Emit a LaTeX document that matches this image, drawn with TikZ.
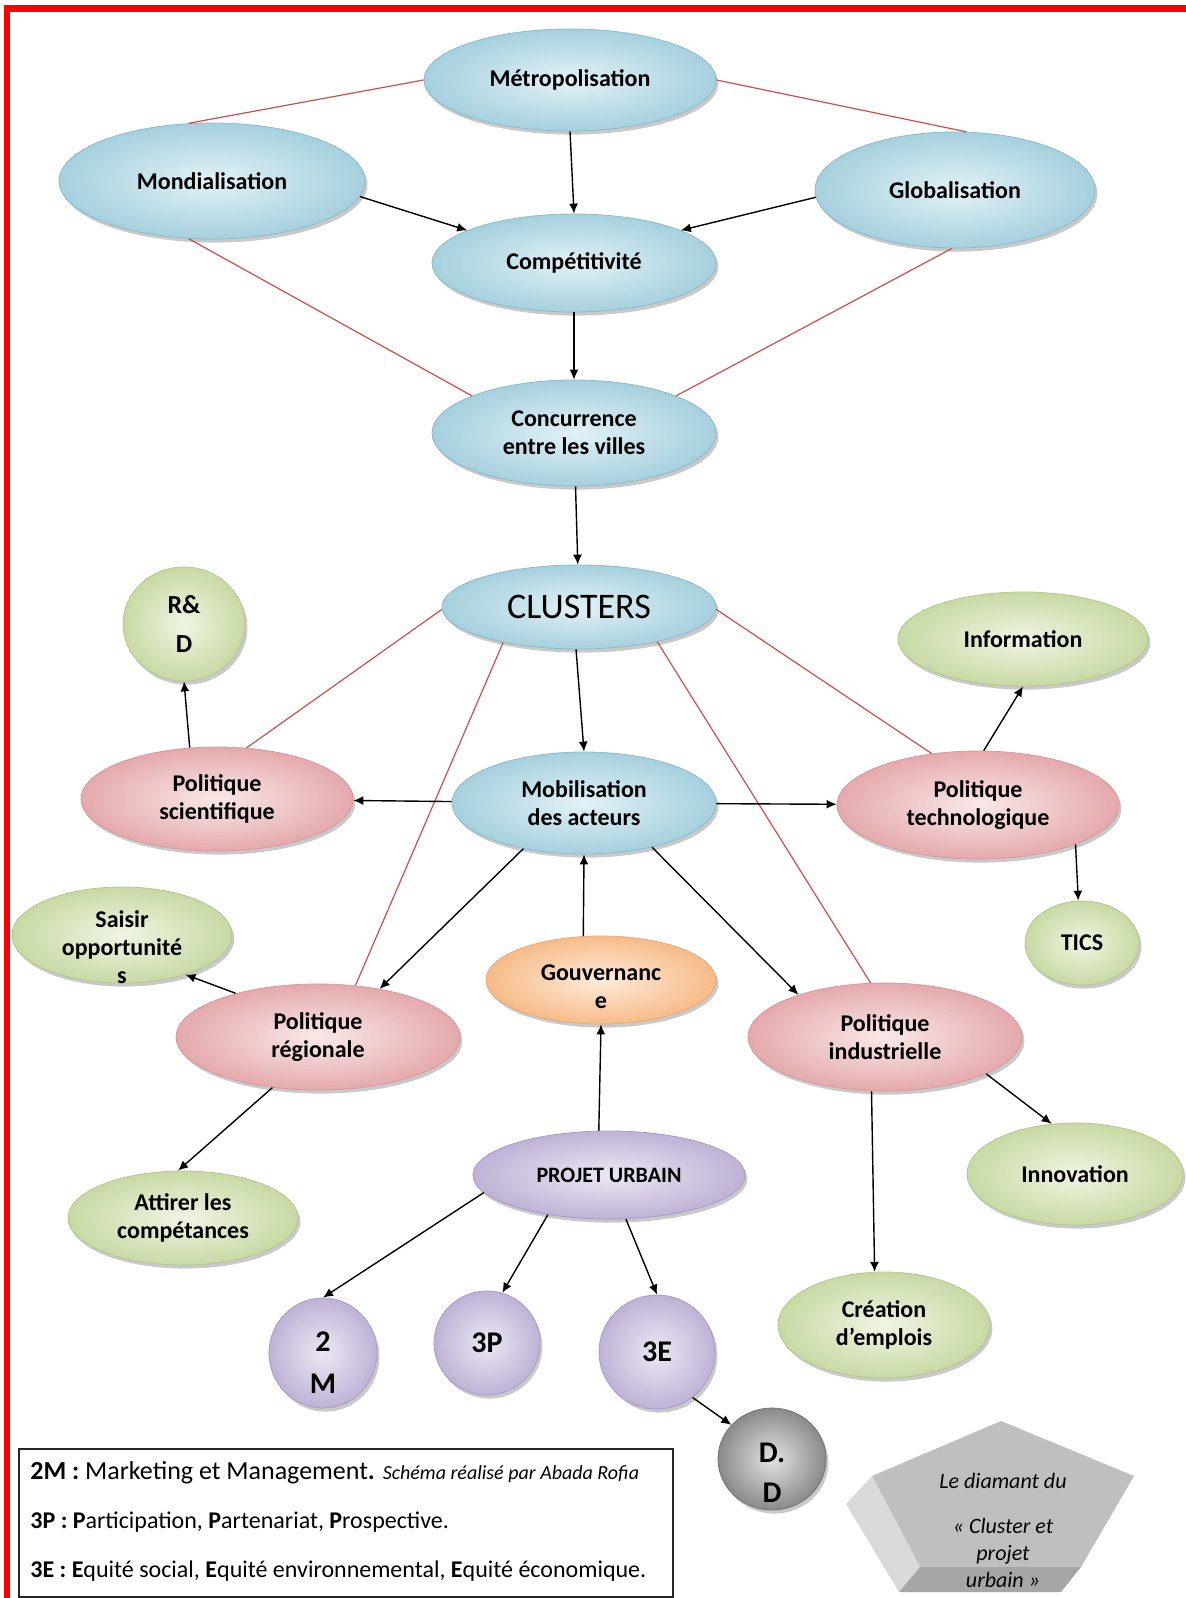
\documentclass[tikz,border=0pt]{standalone}
\usepackage{fontspec}
\setmainfont{Carlito}
\usetikzlibrary{arrows.meta,shapes.geometric,shadows}
\definecolor{skyfill}{HTML}{A6D0DE}
\definecolor{skylight}{HTML}{E2F1F6}
\definecolor{skyedge}{HTML}{8DBACB}
\definecolor{rosefill}{HTML}{E5A9AC}
\definecolor{roselight}{HTML}{F9E8E8}
\definecolor{roseedge}{HTML}{D59A9C}
\definecolor{leaffill}{HTML}{C8D9A4}
\definecolor{leaflight}{HTML}{EFF5E3}
\definecolor{leafedge}{HTML}{B3C78E}
\definecolor{peachfill}{HTML}{F7BB88}
\definecolor{peachlight}{HTML}{FDEBDB}
\definecolor{peachedge}{HTML}{E8A977}
\definecolor{lilacfill}{HTML}{BFB2D6}
\definecolor{lilaclight}{HTML}{ECE7F3}
\definecolor{lilacedge}{HTML}{A99CC4}
\definecolor{stonefill}{HTML}{8A8A8A}
\definecolor{stonelight}{HTML}{E2E2E2}
\definecolor{linkred}{HTML}{C94F4F}

\begin{document}
\begin{tikzpicture}[x=0.5pt, y=-0.5pt,
    bubble/.style={ellipse, inner sep=0pt, align=center, thin,
      font=\bfseries\fontsize{12}{14}\selectfont, shading=radial,
      drop shadow={shadow xshift=1.2pt, shadow yshift=-1.8pt, opacity=0.3, fill=black!70}},
    bubble text/.style={align=center, inner sep=0pt, font=\bfseries\fontsize{12}{14}\selectfont},
    macro/.style={bubble, inner color=skylight, outer color=skyfill, draw=skyedge},
    policy/.style={bubble, inner color=roselight, outer color=rosefill, draw=roseedge},
    outcome/.style={bubble, inner color=leaflight, outer color=leaffill, draw=leafedge},
    governance/.style={bubble, inner color=peachlight, outer color=peachfill, draw=peachedge},
    project/.style={bubble, inner color=lilaclight, outer color=lilacfill, draw=lilacedge},
    pillar/.style={project, font=\bfseries\fontsize{15}{21}\selectfont},
    arrow/.style={-{Latex[length=5pt, width=4.5pt]}, line width=0.7pt},
    link/.style={draw=linkred, line width=0.6pt},
    legend/.style={draw=black!85, line width=0.9pt, fill=white, inner sep=0pt},
    legend line/.style={anchor=base west, inner sep=0pt, font=\fontsize{12}{14}\selectfont}
  ]
    \useasboundingbox (0,0) rectangle (1186,1598);
    \fill[red] (4,5) rectangle (1186,12);
    \fill[red] (4,5) rectangle (10,1598);

    \node[macro, minimum width=146pt, minimum height=51pt] (metro) at (570,80) {Métropolisation};
    \node[macro, minimum width=153pt, minimum height=58pt] (mondial) at (212,181) {Mondialisation};
    \node[macro, minimum width=140pt, minimum height=58pt] (global) at (955,190) {Globalisation};
    \node[macro, minimum width=142pt, minimum height=49pt] (compet) at (574,263) {Compétitivité};
    \node[macro, minimum width=142pt, minimum height=53pt] (conc) at (574,433) {Concurrence\\entre les villes};
    \node[macro, minimum width=137pt, minimum height=42pt, font=\fontsize{18}{20}\selectfont] (clusters) at (579,607) {CLUSTERS};

    \node[outcome, minimum width=61pt, minimum height=57pt, font=\bfseries\fontsize{13}{19.5}\selectfont] (rd) at (184,624) {R\&\\D};
    \node[outcome, minimum width=125pt, minimum height=47pt] (info) at (1023,639) {Information};
    \node[policy, minimum width=136pt, minimum height=52pt] (sci) at (217,799) {Politique\\scientifique};
    \node[macro, minimum width=132pt, minimum height=51pt] (mob) at (584,803) {Mobilisation\\des acteurs};
    \node[policy, minimum width=141pt, minimum height=54pt] (techno) at (978,805) {Politique\\technologique};
    \node[outcome, minimum width=57pt, minimum height=42pt] (tics) at (1082,943) {TICS};

    \node[outcome, minimum width=110pt, minimum height=48pt,
      label={[bubble text, yshift=-6pt]center:Saisir\\opportunité\\s}] (saisir) at (122,935) {};
    \node[governance, minimum width=115pt, minimum height=44pt,
      label={[bubble text, yshift=-3.5pt]center:Gouvernanc\\e}] (gouv) at (601,980) {};
    \node[policy, minimum width=142pt, minimum height=53pt] (reg) at (318,1037) {Politique\\régionale};
    \node[policy, minimum width=137pt, minimum height=54pt] (ind) at (885,1037) {Politique\\industrielle};

    \node[outcome, minimum width=108pt, minimum height=51pt] (innov) at (1075,1174) {Innovation};
    \node[project, minimum width=136pt, minimum height=44pt, font=\bfseries\fontsize{11}{13}\selectfont] (projet) at (609,1175) {PROJET URBAIN};
    \node[outcome, minimum width=115pt, minimum height=47pt] (attirer) at (183,1218) {Attirer les\\compétances};
    \node[outcome, minimum width=106pt, minimum height=53pt] (creation) at (884,1325) {Création\\d’emplois};

    \node[pillar, minimum width=54pt, minimum height=55pt,
      label={[bubble text, font=\bfseries\fontsize{15}{21}\selectfont, yshift=-5pt]center:2\\M}] (twoM) at (323,1353) {};
    \node[pillar, minimum width=53pt, minimum height=52pt] (threeP) at (487,1343) {3P};
    \node[pillar, minimum width=58pt, minimum height=57pt] (threeE) at (657,1352) {3E};
    \node[bubble, inner color=stonelight, outer color=stonefill, draw=black!55,
      minimum width=54pt, minimum height=51pt,
      label={[bubble text, font=\bfseries\fontsize{15}{20}\selectfont, yshift=-7pt]center:D.\\D}] (dd) at (772,1459) {};

    \draw[link] (metro.180) -- (mondial.112);
    \draw[link] (metro.0) -- (global.79);
    \draw[link] (mondial.248) -- (conc.160);
    \draw[link] (global.267) -- (conc.20);
    \draw[link] (clusters.181) -- (sci.60);
    \draw[link] (clusters.-1) -- (techno.132);
    \draw[link] (clusters.205) -- (reg.54);
    \draw[link] (clusters.-24) -- (ind.105);

    \draw[arrow] (mondial.-6) -- (compet.163);
    \draw[arrow] (metro.south) -- (compet.north);
    \draw[arrow] (global.183) -- (compet.17);
    \draw[arrow] (compet) -- (conc);
    \draw[arrow] (conc) -- (clusters);
    \draw[arrow] (clusters.-94) -- (mob.north);
    \draw[arrow] (mob) -- (sci);
    \draw[arrow] (mob) -- (techno);
    \draw[arrow] (sci.118) -- (rd.south);
    \draw[arrow] (techno.84) -- (info.south);
    \draw[arrow] (techno.-22) -- (tics.95);
    \draw[arrow] (mob.217) -- (reg.38);
    \draw[arrow] (mob.-33) -- (ind.154);
    \draw[arrow] (gouv.112) -- (mob.south);
    \draw[arrow] (projet.103) -- (gouv.south);
    \draw[arrow] (reg.152) -- (saisir.-32);
    \draw[arrow] (reg.228) -- (attirer.96);
    \draw[arrow] (ind.-20) -- (innov.115);
    \draw[arrow] (ind.256) -- (creation.100);
    \draw[arrow] (projet.188) -- (twoM.north);
    \draw[arrow] (projet.213) -- (threeP.73);
    \draw[arrow] (projet.-69) -- (threeE.north);
    \draw[arrow] (threeE.-52) -- (dd.140);

    \node[legend, anchor=north west, minimum width=327pt, minimum height=74pt] (legend) at (18,1448) {};
    \node[legend line, font=\fontsize{13}{15}\selectfont] (leg2m) at (30,1479)
      {\textbf{2M :} Marketing et Management\textbf{.} {\itshape\fontsize{10}{12}\selectfont Schéma réalisé  par Abada Rofia}};
    \node[legend line] (leg3p) at (30,1528)
      {\textbf{3P :} \textbf{P}articipation, \textbf{P}artenariat, \textbf{P}rospective.};
    \node[legend line] (leg3e) at (30,1577)
      {\textbf{3E :} \textbf{E}quité social, \textbf{E}quité environnemental, \textbf{E}quité économique.};

    \fill[black!25] (1001,1421) -- (1134,1476) -- (1081,1567) -- (920,1567) -- (872,1476) -- cycle;
    \fill[black!15] (872,1476) -- (920,1567) -- (899,1592) -- (846,1504) -- cycle;
    \fill[black!35] (920,1567) -- (1081,1567) -- (1061,1592) -- (899,1592) -- cycle;
    \node[align=center, inner sep=0pt, font=\itshape\fontsize{11}{13.5}\selectfont] (diamant) at (1003,1530)
      {Le diamant du\\[9pt]« Cluster et\\projet\\urbain »};
\end{tikzpicture}
\end{document}
